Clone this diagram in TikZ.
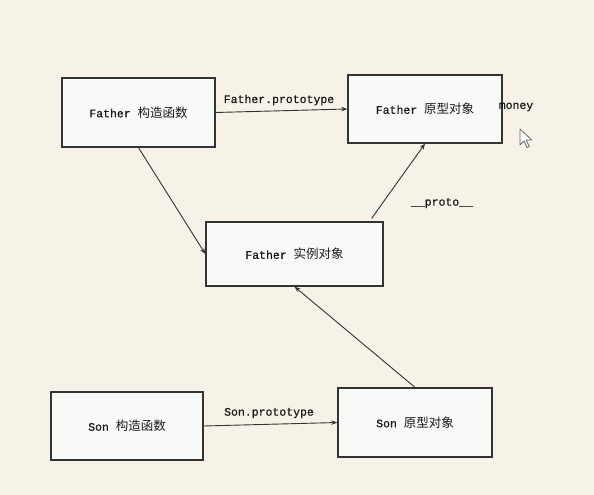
\documentclass[tikz,border=0pt]{standalone}
\usepackage{fontspec}
\setmainfont{Liberation Mono}[FakeBold=0.7]
\newfontfamily\cjk{Noto Sans CJK SC}
\usetikzlibrary{arrows.meta}
\definecolor{bgc}{HTML}{F6F2E7}
\definecolor{boxc}{HTML}{F8FAF7}
\definecolor{linec}{HTML}{333333}
\newcommand{\zh}[1]{{\cjk\fontsize{12.5bp}{14bp}\selectfont #1}}
\tikzset{
  objbox/.style={draw=linec, line width=1.3bp, fill=boxc, rectangle, inner sep=0pt,
    font=\fontsize{11.5bp}{13bp}\selectfont, text=black!90},
  conn/.style={draw=linec, line width=0.9bp, -{Stealth[length=6bp,width=4.5bp]}},
  lbl/.style={inner sep=0pt, font=\fontsize{11.5bp}{13bp}\selectfont, text=black!90}
}
\begin{document}
\begin{tikzpicture}[x=1bp,y=-1bp]
\fill[bgc] (0,0) rectangle (594,495);
\useasboundingbox (0,0) rectangle (594,495);
\node[objbox, minimum width=153bp, minimum height=69bp] (fc) at (138.5,112.5) {Father \zh{构造函数}};
\node[objbox, minimum width=154bp, minimum height=68bp] (fp) at (425,109) {Father \zh{原型对象}};
\node[objbox, minimum width=177bp, minimum height=64bp] (fi) at (294.5,254) {Father \zh{实例对象}};
\node[objbox, minimum width=152bp, minimum height=68bp] (sc) at (127,426) {Son \zh{构造函数}};
\node[objbox, minimum width=154bp, minimum height=69bp] (sp) at (415,422.5) {Son \zh{原型对象}};
\draw[conn] (fc.east) -- (fp.west);
\draw[conn] (fc.south) -- (fi.west);
\draw[conn] ([xshift=-12bp,yshift=3bp]fi.north east) -- (fp.south);
\draw[conn] (sp.north) -- (fi.south);
\draw[conn] (sc.east) -- (sp.west);
\node[lbl] (l1) at (279,100) {Father.prototype};
\node[lbl] (l2) at (269,413) {Son.prototype};
\node[lbl] (l3) at (442,203) {\_\_proto\_\_};
\node[lbl] (l4) at (516,107) {money};
\draw[draw=black!60, fill=white, line width=0.8bp, line join=round]
  (520,129) -- ++(0,16) -- ++(4,-4) -- ++(3,6.5) -- ++(2.2,-1) -- ++(-3,-6.5) -- ++(5.5,0) -- cycle;
\end{tikzpicture}
\end{document}
